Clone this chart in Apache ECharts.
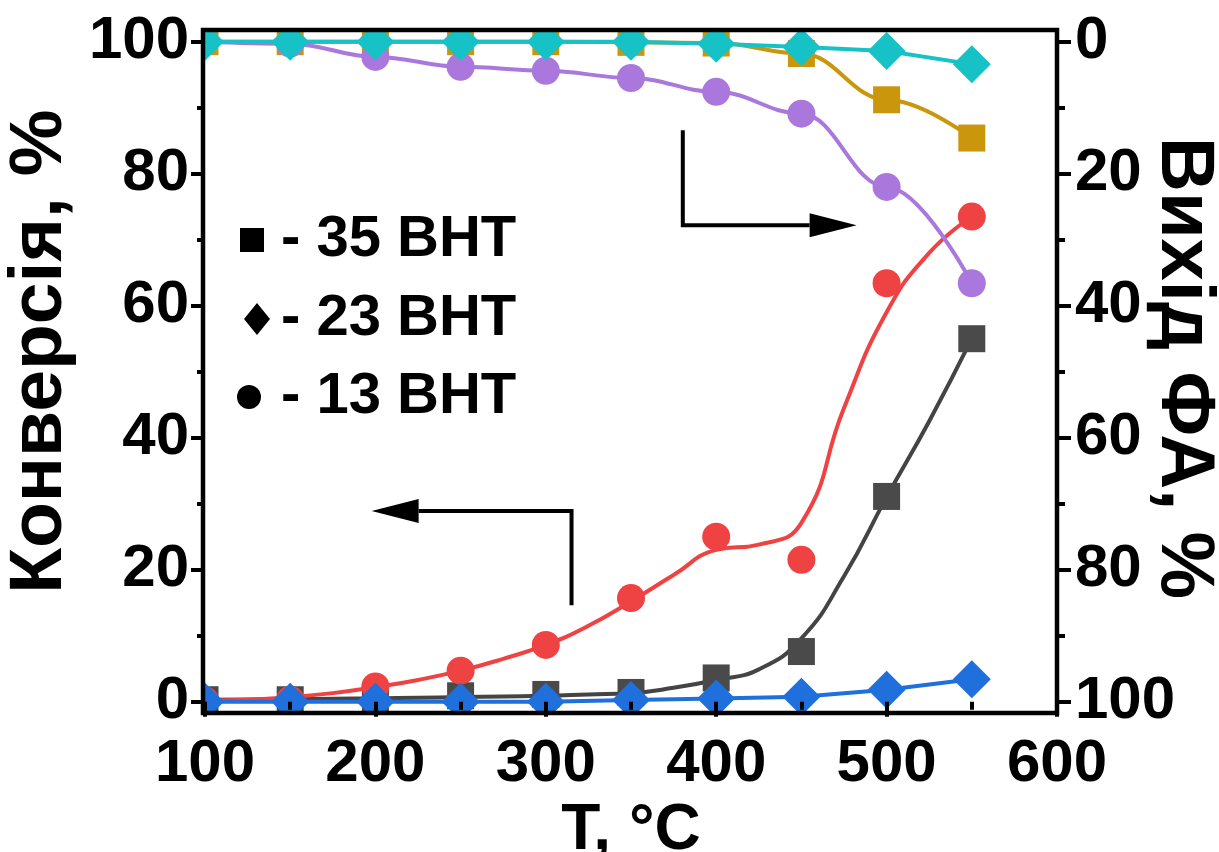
<!DOCTYPE html>
<html><head><meta charset="utf-8">
<script src="https://cdn.jsdelivr.net/npm/echarts@6/dist/echarts.min.js"></script>
<style>html,body{margin:0;padding:0;background:#fff}#c{width:1219px;height:852px}</style>
</head><body><div id="c"></div>
<script>
// ---- data ----
const temps = [100,150,200,250,300,350,400,450,500,550];
const conv35 = [0.3,0.3,0.5,0.9,1.1,1.4,3.6,7.6,31.1,55.0];
const conv23 = [0,0,0,0,0,0.25,0.5,0.75,1.8,3.4];
const conv13 = [0.2,0.3,2.3,4.7,8.6,15.7,25.0,21.5,63.4,73.5];
const yield35 = [0,0,0,0,0,0.1,0.2,1.8,8.8,14.6];
const yield23 = [0,0,0,0,0,0,0.3,0.8,1.4,3.4];
const yield13 = [0,0.3,2.3,3.8,4.4,5.5,7.6,10.9,22.0,36.6];
// fitted curves
const fitTemps = [100,125,150,175,200,225,250,275,300,325,350,375,400,425,450,475,500,525,550];
const fit35 = [0.3,0.35,0.4,0.45,0.5,0.6,0.7,0.8,0.9,1.1,1.3,2.1,3.3,4.9,9.6,19.0,31.0,42.5,55.0];
const fit13 = [0.2,0.3,0.7,1.3,2.2,3.3,4.7,6.5,8.6,11.5,15.2,19.2,23.0,23.8,27.1,44.5,59.0,68.0,73.5];
const legendLabels = ['- 35 ВНТ','- 23 ВНТ','- 13 ВНТ'];
const rightTitle = 'Вихід ФА, %';
// arrows (data coords): [x0,y0],[x0,y1],[xTip,y1]
const arrowLeft = [[315.1,14.6],[315.1,28.9],[197.8,28.9]];
const arrowRight = [[380.4,86.6],[380.4,72.2],[482.4,72.2]];

const pair = (xs, ys) => xs.map((x,i)=>[x, ys[i]]);
const FONT = 'Liberation Sans';
const C = {gray:'#4a4a4a', grayLine:'#444444', red:'#ef4242', blue:'#1f6fdc', gold:'#c9960c', purple:'#aa78dc', cyan:'#17c2c6'};

const chart = echarts.init(document.getElementById('c'));
const tickStyle = {width:4, color:'#000'};
const lbl = {fontSize:60, fontWeight:'bold', fontFamily:FONT, color:'#000'};

const option = {
  animation:false,
  backgroundColor:'#fff',
  grid:{left:205, right:162, top:41.7, bottom:150.3, containLabel:false, outerBoundsMode:'none'},
  xAxis:[{
    type:'value', min:100, max:600, interval:100, position:'bottom', offset:11, z:20,
    axisLine:{show:false}, splitLine:{show:false},
    axisTick:{show:true, length:15, lineStyle:tickStyle},
    minorTick:{show:true, splitNumber:2, length:8, lineStyle:tickStyle},
    axisLabel:Object.assign({margin:22}, lbl),
    name:'T, °C', nameLocation:'middle', nameGap:84,
    nameTextStyle:{fontSize:64, fontWeight:'bold', fontFamily:FONT, color:'#000'}
  }],
  yAxis:[{
    type:'value', min:0, max:100, interval:20, position:'left', z:20,
    axisLine:{show:false}, splitLine:{show:false},
    axisTick:{show:true, length:14, lineStyle:tickStyle},
    minorTick:{show:true, splitNumber:2, length:8, lineStyle:tickStyle},
    axisLabel:Object.assign({margin:16}, lbl),
    name:'Конверсія, %', nameLocation:'middle', nameGap:124,
    nameTextStyle:{fontSize:75, fontWeight:'bold', fontFamily:FONT, color:'#000', padding:[0,0,0,40]}
  },{
    type:'value', min:0, max:100, interval:20, position:'right', inverse:true, z:20,
    axisLine:{show:false}, splitLine:{show:false},
    axisTick:{show:true, length:14, lineStyle:tickStyle},
    minorTick:{show:true, splitNumber:2, length:8, lineStyle:tickStyle},
    axisLabel:Object.assign({margin:18}, lbl)
  }],
  series:[
    {type:'line', name:'fit35', data:pair(fitTemps, fit35), smooth:true, showSymbol:false, clip:false,
     lineStyle:{width:4, color:C.grayLine}, z:2},
    {type:'scatter', name:'35 conv', data:pair(temps, conv35), symbol:'rect', symbolSize:27, clip:false,
     itemStyle:{color:C.gray, opacity:1}, z:3},
    {type:'line', name:'fit13', data:pair(fitTemps, fit13), smooth:true, showSymbol:false, clip:false,
     lineStyle:{width:4, color:C.red}, z:4},
    {type:'scatter', name:'13 conv', data:pair(temps, conv13), symbol:'circle', symbolSize:28, clip:false,
     itemStyle:{color:C.red, opacity:1}, z:5},
    {type:'line', name:'23 conv', data:pair(temps, conv23), symbol:'diamond', symbolSize:38, showSymbol:true, clip:false,
     lineStyle:{width:4, color:C.blue}, itemStyle:{color:C.blue}, z:6},
    {type:'line', name:'35 yield', yAxisIndex:1, data:pair(temps, yield35), smooth:0.4, smoothMonotone:'x', symbol:'rect', symbolSize:27, clip:false,
     lineStyle:{width:4, color:C.gold}, itemStyle:{color:C.gold}, z:7},
    {type:'line', name:'13 yield', yAxisIndex:1, data:pair(temps, yield13), smooth:0.4, smoothMonotone:'x', symbol:'circle', symbolSize:28, clip:false,
     lineStyle:{width:4, color:C.purple}, itemStyle:{color:C.purple}, z:8},
    {type:'line', name:'23 yield', yAxisIndex:1, data:pair(temps, yield23), symbol:'diamond', symbolSize:38, clip:false,
     lineStyle:{width:4, color:C.cyan}, itemStyle:{color:C.cyan}, z:9}
  ]
};
chart.setOption(option);

function px(p){ return chart.convertToPixel({xAxisIndex:0, yAxisIndex:0}, p); }
function arrow(pts, dir){
  const a = px(pts[0]), b = px(pts[1]), t = px(pts[2]);
  const headLen = 47, half = 12;
  const base = [t[0] - dir*headLen, t[1]];
  return [
    {type:'polyline', z:30, shape:{points:[a,b,base]}, style:{stroke:'#000', lineWidth:4, fill:null}},
    {type:'polygon', z:30, shape:{points:[t,[base[0],t[1]-half],[base[0],t[1]+half]]}, style:{fill:'#000'}}
  ];
}
const frame = {left:203, top:30, right:1057, bottom:713};
const masks = [
  {type:'rect', z:15, shape:{x:0,y:0,width:1219,height:frame.top}, style:{fill:'#fff'}},
  {type:'rect', z:15, shape:{x:0,y:frame.bottom,width:1219,height:852-frame.bottom}, style:{fill:'#fff'}},
  {type:'rect', z:15, shape:{x:0,y:0,width:frame.left,height:852}, style:{fill:'#fff'}},
  {type:'rect', z:15, shape:{x:frame.right,y:0,width:1219-frame.right,height:852}, style:{fill:'#fff'}},
  {type:'rect', z:25, shape:{x:frame.left,y:frame.top,width:frame.right-frame.left,height:frame.bottom-frame.top},
   style:{fill:null, stroke:'#000', lineWidth:4.5}}
];
const legendY = [240, 319, 397];
const legendEls = [
  {type:'rect', z:30, shape:{x:240,y:legendY[0]-12,width:24,height:24}, style:{fill:'#000'}},
  {type:'polygon', z:30, shape:{points:[[257,legendY[1]-16],[270,legendY[1]],[257,legendY[1]+16],[244,legendY[1]]]}, style:{fill:'#000'}},
  {type:'circle', z:30, shape:{cx:249,cy:legendY[2],r:12}, style:{fill:'#000'}}
];
legendLabels.forEach((s,i)=>legendEls.push({type:'text', z:30, x:281, y:legendY[i],
  style:{text:s, fontSize:58, fontWeight:'bold', fontFamily:FONT, fill:'#000', verticalAlign:'middle', align:'left'}}));
const titleEl = {type:'text', z:30, x:1183, y:368, rotation:-Math.PI/2,
  style:{text:rightTitle, fontSize:76, fontWeight:'bold', fontFamily:FONT, fill:'#000', align:'center', verticalAlign:'middle'}};

chart.setOption({graphic:{elements:[].concat(masks, arrow(arrowLeft,-1), arrow(arrowRight,1), legendEls, [titleEl])}});
</script></body></html>
